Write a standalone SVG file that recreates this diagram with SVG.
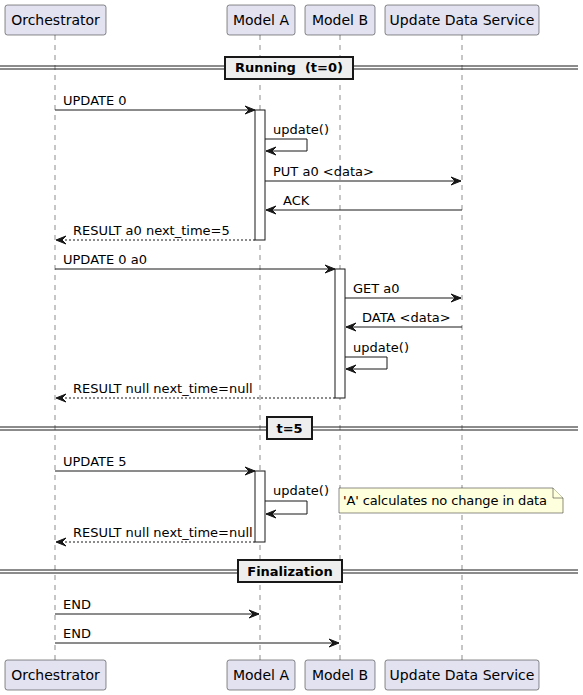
<svg xmlns="http://www.w3.org/2000/svg" width="583" height="695" viewBox="0 0 583 695">
<style>
.pbox{fill:#E2E2F0;stroke:#181818;stroke-width:0.5}
.ptxt{font-family:"DejaVu Sans",sans-serif;font-size:14px;fill:#000;text-anchor:middle}
.life{stroke:#181818;stroke-width:0.5;stroke-dasharray:5,5;fill:none}
.act{fill:#FFFFFF;stroke:#181818;stroke-width:1}
.msg{stroke:#181818;stroke-width:1;fill:none}
.ret{stroke:#181818;stroke-width:1;fill:none;stroke-dasharray:2,2}
.mtxt{font-family:"DejaVu Sans",sans-serif;font-size:13px;fill:#000}
.dline{stroke:#181818;stroke-width:1}
.dbox{fill:#EEEEEE;stroke:#181818;stroke-width:2}
.dtxt{font-family:"DejaVu Sans",sans-serif;font-size:13px;font-weight:bold;fill:#000;text-anchor:middle;white-space:pre}
.note{fill:#FEFFDD;stroke:#181818;stroke-width:0.5}
</style>
<defs>
<marker id="ah" markerUnits="userSpaceOnUse" markerWidth="12" markerHeight="10" refX="10" refY="4" orient="auto" overflow="visible">
<path d="M0,0 L10,4 L0,8 L4,4 Z" fill="#181818" stroke="#181818" stroke-width="1" stroke-linejoin="miter"/>
</marker>
</defs>

<g id="lifelines">
<line class="life" x1="55" y1="35" x2="55" y2="660"/>
<line class="life" x1="260" y1="35" x2="260" y2="660"/>
<line class="life" x1="340" y1="35" x2="340" y2="660"/>
<line class="life" x1="462" y1="35" x2="462" y2="660"/>
</g>

<g id="dividers">
<g id="div-running">
<line class="dline" x1="0" y1="66" x2="578" y2="66"/>
<line class="dline" x1="0" y1="69" x2="578" y2="69"/>
<rect class="dbox" x="225" y="57" width="128" height="22"/>
<text class="dtxt" x="289" y="72" xml:space="preserve">Running  (t=0)</text>
</g>
<g id="div-t5">
<line class="dline" x1="0" y1="427" x2="578" y2="427"/>
<line class="dline" x1="0" y1="430" x2="578" y2="430"/>
<rect class="dbox" x="267" y="417" width="45" height="22"/>
<text class="dtxt" x="289.5" y="433">t=5</text>
</g>
<g id="div-final">
<line class="dline" x1="0" y1="570" x2="578" y2="570"/>
<line class="dline" x1="0" y1="573" x2="578" y2="573"/>
<rect class="dbox" x="238" y="560" width="104" height="22"/>
<text class="dtxt" x="290" y="576">Finalization</text>
</g>
</g>

<g id="activations">
<rect class="act" x="255" y="110" width="10" height="130"/>
<rect class="act" x="335" y="269" width="10" height="129"/>
<rect class="act" x="255" y="471" width="10" height="71"/>
</g>

<g id="connectors">
<line class="msg" x1="55" y1="110" x2="255" y2="110" marker-end="url(#ah)"/>
<text class="mtxt" x="63" y="105">UPDATE 0</text>

<polyline class="msg" points="265,139 307,139 307,151 266,151" marker-end="url(#ah)"/>
<text class="mtxt" x="273" y="134">update()</text>

<line class="msg" x1="265" y1="181" x2="461" y2="181" marker-end="url(#ah)"/>
<text class="mtxt" x="273" y="176">PUT a0 &lt;data&gt;</text>

<line class="msg" x1="462" y1="210" x2="266" y2="210" marker-end="url(#ah)"/>
<text class="mtxt" x="283" y="205">ACK</text>

<line class="ret" x1="255" y1="240" x2="56" y2="240" marker-end="url(#ah)"/>
<text class="mtxt" x="73" y="235">RESULT a0 next_time=5</text>

<line class="msg" x1="55" y1="269" x2="335" y2="269" marker-end="url(#ah)"/>
<text class="mtxt" x="63" y="264">UPDATE 0 a0</text>

<line class="msg" x1="345" y1="298" x2="461" y2="298" marker-end="url(#ah)"/>
<text class="mtxt" x="353" y="293">GET a0</text>

<line class="msg" x1="462" y1="327" x2="346" y2="327" marker-end="url(#ah)"/>
<text class="mtxt" x="362" y="322">DATA &lt;data&gt;</text>

<polyline class="msg" points="345,357 387,357 387,369 346,369" marker-end="url(#ah)"/>
<text class="mtxt" x="353" y="352">update()</text>

<line class="ret" x1="335" y1="398" x2="56" y2="398" marker-end="url(#ah)"/>
<text class="mtxt" x="73" y="393">RESULT null next_time=null</text>

<line class="msg" x1="55" y1="471" x2="255" y2="471" marker-end="url(#ah)"/>
<text class="mtxt" x="63" y="466">UPDATE 5</text>

<polyline class="msg" points="265,501 307,501 307,514 266,514" marker-end="url(#ah)"/>
<text class="mtxt" x="273" y="495">update()</text>

<line class="ret" x1="255" y1="542" x2="56" y2="542" marker-end="url(#ah)"/>
<text class="mtxt" x="73" y="537">RESULT null next_time=null</text>

<line class="msg" x1="55" y1="614" x2="259" y2="614" marker-end="url(#ah)"/>
<text class="mtxt" x="63" y="609">END</text>

<line class="msg" x1="55" y1="643" x2="339" y2="643" marker-end="url(#ah)"/>
<text class="mtxt" x="63" y="638">END</text>
</g>

<g id="note">
<path class="note" d="M339,488 L553,488 L563,498 L563,513 L339,513 Z"/>
<path class="note" d="M553,488 L553,498 L563,498" fill="none"/>
<text class="mtxt" x="343" y="505" textLength="204">'A' calculates no change in data</text>
</g>

<g id="p-orchestrator">
<rect class="pbox" x="5" y="5" width="101" height="30" rx="2.5"/>
<text class="ptxt" x="55.5" y="25">Orchestrator</text>
<rect class="pbox" x="5" y="660" width="101" height="30" rx="2.5"/>
<text class="ptxt" x="55.5" y="680">Orchestrator</text>
</g>
<g id="p-modela">
<rect class="pbox" x="227" y="5" width="68" height="30" rx="2.5"/>
<text class="ptxt" x="261" y="25">Model A</text>
<rect class="pbox" x="227" y="660" width="68" height="30" rx="2.5"/>
<text class="ptxt" x="261" y="680">Model A</text>
</g>
<g id="p-modelb">
<rect class="pbox" x="305" y="5" width="70" height="30" rx="2.5"/>
<text class="ptxt" x="340" y="25">Model B</text>
<rect class="pbox" x="305" y="660" width="70" height="30" rx="2.5"/>
<text class="ptxt" x="340" y="680">Model B</text>
</g>
<g id="p-uds">
<rect class="pbox" x="385" y="5" width="154" height="30" rx="2.5"/>
<text class="ptxt" x="462" y="25">Update Data Service</text>
<rect class="pbox" x="385" y="660" width="154" height="30" rx="2.5"/>
<text class="ptxt" x="462" y="680">Update Data Service</text>
</g>
</svg>
